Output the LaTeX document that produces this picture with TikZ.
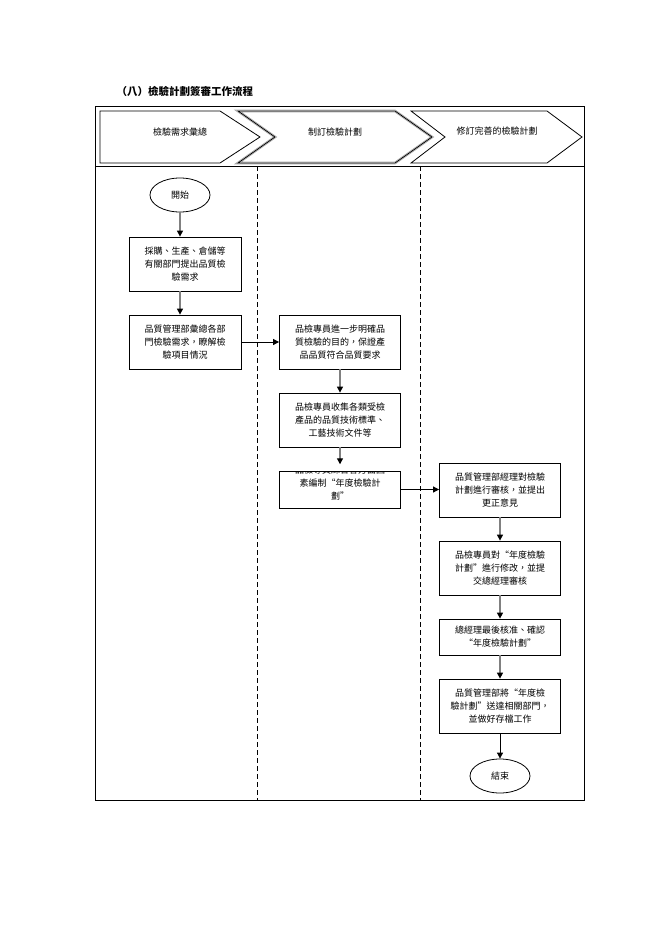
\documentclass[tikz,border=0pt]{standalone}
\usepackage{fontspec}
\setmainfont{Noto Sans CJK TC}
\usetikzlibrary{shapes.geometric,arrows.meta}
\tikzset{
  box/.style={draw,line width=0.8,minimum width=121pt,minimum height=54pt,inner sep=1pt,align=center,font=\fontsize{9}{13}\selectfont},
  term/.style={draw,ellipse,line width=0.8,minimum width=60pt,minimum height=34pt,font=\fontsize{9}{9}\selectfont},
  flow/.style={line width=1.2,gray,-{Triangle[black,length=6pt,width=6pt]}},
  hflow/.style={line width=0.8,black,-{Triangle[length=6pt,width=6pt]}},
  lane/.style={line width=0.8,dashed,dash pattern=on 5pt off 3pt},
  chev/.style={draw,line width=0.8}
}
\begin{document}
\begin{tikzpicture}[x=1pt,y=-1pt]
  \useasboundingbox (0,0) rectangle (662,936);
  % title
  \node [anchor=west,font=\fontsize{10.5}{10.5}\selectfont\bfseries] (title) at (113,91) {（八）檢驗計劃簽審工作流程};
  % frame and lanes
  \draw [line width=0.8] (95,106) rectangle (584,800);
  \draw [line width=0.8] (95,166) -- (584,166);
  \draw [lane] (257,166) -- (257,800);
  \draw [lane] (420,166) -- (420,800);
  % header chevrons
  \draw [chev] (100,111) -- (220,111) -- (260,137) -- (220,163) -- (100,163) -- cycle;
  \draw [chev,double=white,double distance=1pt,gray!70] (238,111) -- (395,111) -- (432,137) -- (395,163) -- (238,163) -- (275,137) -- cycle;
  \draw [chev] (238,111) -- (395,111) -- (432,137) -- (395,163) -- (238,163) -- (275,137) -- cycle;
  \draw [chev] (411,111) -- (547,111) -- (582,137) -- (547,163) -- (411,163) -- (445,137) -- cycle;
  \node [font=\fontsize{9}{9}\selectfont] (h1) at (180,132) {檢驗需求彙總};
  \node [font=\fontsize{9}{9}\selectfont] (h2) at (335,132) {制訂檢驗計劃};
  \node [font=\fontsize{9}{9}\selectfont] (h3) at (497,131) {修訂完善的檢驗計劃};
  % lane 1
  \node [term] (start) at (180,195) {開始};
  \node [box,minimum width=112pt] (req) at (185,264) {採購、生產、倉儲等\\有關部門提出品質檢\\驗需求};
  \node [box,minimum width=112pt] (sum) at (185,342) {品質管理部彙總各部\\門檢驗需求，瞭解檢\\驗項目情況};
  % lane 2
  \node [box] (clear) at (340,342) {品檢專員進一步明確品\\質檢驗的目的，保證產\\品品質符合品質要求};
  \node [box] (collect) at (340,420) {品檢專員收集各類受檢\\產品的品質技術標準、\\工藝技術文件等};
  \begin{scope}
    \clip (279,471) rectangle (400,508);
    \node [box,minimum height=37pt,text depth=14pt] (draft) at (340,489.5) {品檢專員綜合各方面因\\素編制“年度檢驗計\\劃”};
  \end{scope}
  \draw [line width=0.8] (279,471) rectangle (400,508);
  % lane 3
  \node [box] (audit) at (500,490) {品質管理部經理對檢驗\\計劃進行審核，並提出\\更正意見};
  \node [box] (revise) at (500,568) {品檢專員對“年度檢驗\\計劃”進行修改，並提\\交總經理審核};
  \node [box,minimum height=36pt] (approve) at (500,637) {總經理最後核准、確認\\“年度檢驗計劃”};
  \node [box] (issue) at (500,706) {品質管理部將“年度檢\\驗計劃”送達相關部門，\\並做好存檔工作};
  \node [term] (end) at (500,776) {結束};
  % connectors
  \draw [flow] (start) -- (req.north -| start);
  \draw [flow] (req.south -| start) -- (sum.north -| start);
  \draw [hflow] (sum) -- (clear);
  \draw [flow] (clear) -- (collect);
  \draw [flow] (collect) -- (draft.north);
  \draw [hflow] (draft.east) -- (audit.west |- draft.east);
  \draw [flow] (audit) -- (revise);
  \draw [flow] (revise) -- (approve);
  \draw [flow] (approve) -- (issue);
  \draw [hflow] (issue) -- (end);
\end{tikzpicture}
\end{document}
